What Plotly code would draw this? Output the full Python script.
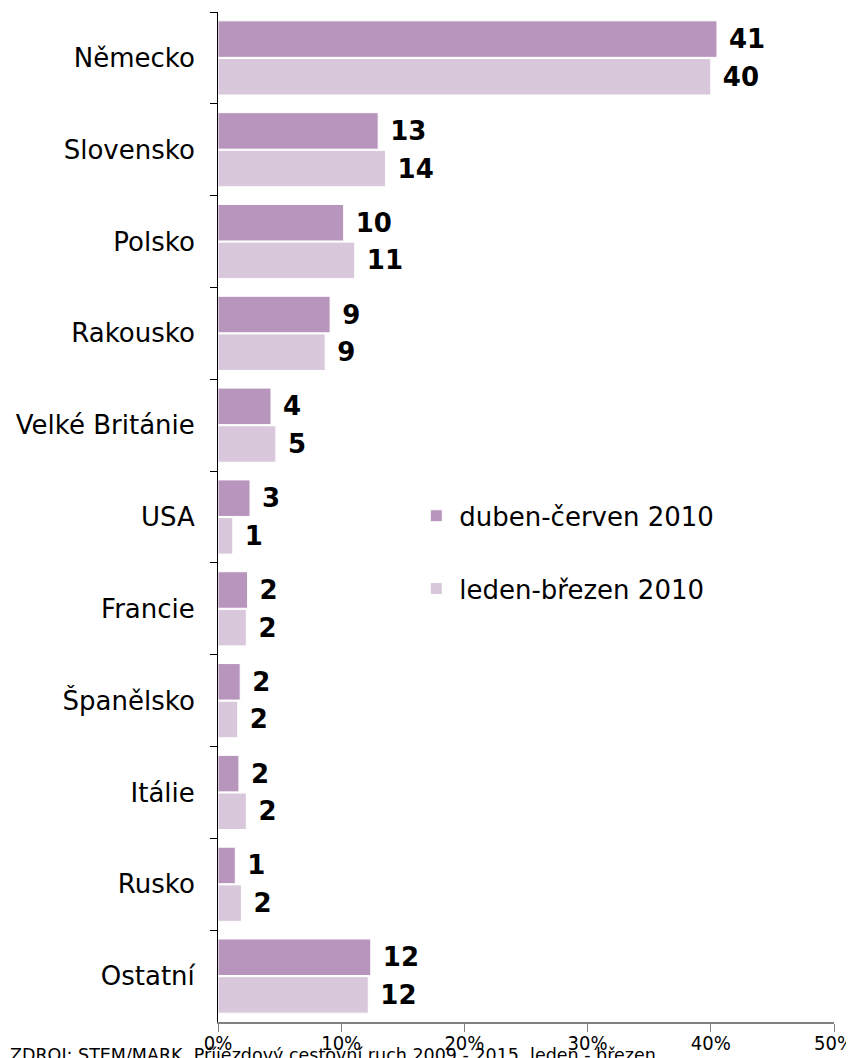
import plotly.graph_objects as go

categories = ["Německo", "Slovensko", "Polsko", "Rakousko", "Velké Británie", "USA",
              "Francie", "Španělsko", "Itálie", "Rusko", "Ostatní"]
series_names = ["duben-červen 2010", "leden-březen 2010"]
apr_jun = [0.405, 0.130, 0.102, 0.091, 0.043, 0.026, 0.024, 0.018, 0.017, 0.014, 0.124]
jan_mar = [0.400, 0.136, 0.111, 0.087, 0.047, 0.012, 0.023, 0.016, 0.023, 0.019, 0.122]
apr_jun_labels = ["41", "13", "10", "9", "4", "3", "2", "2", "2", "1", "12"]
jan_mar_labels = ["40", "14", "11", "9", "5", "1", "2", "2", "2", "2", "12"]
x_ticks = [0, 0.1, 0.2, 0.3, 0.4, 0.5]
x_tick_labels = ["0%", "10%", "20%", "30%", "40%", "50%"]
source_text = "ZDROJ: STEM/MARK, Příjezdový cestovní ruch 2009 - 2015, leden - březen"

colors = ["#B795BC", "#D9C8DC"]
font_main = "DejaVu Sans, Verdana, sans-serif"
font_narrow = "DejaVu Sans Condensed, DejaVu Sans, sans-serif"

fig = go.Figure()
for name, vals, labs, col, grp in [
    (series_names[0], apr_jun, apr_jun_labels, colors[0], "a"),
    (series_names[1], jan_mar, jan_mar_labels, colors[1], "b"),
]:
    fig.add_trace(go.Bar(
        y=categories, x=vals, orientation="h", name=name,
        marker=dict(color=col, line=dict(color="white", width=1)),
        text=[" " + t for t in labs], textposition="outside",
        textfont=dict(family=font_main, size=26, color="black", weight="bold"),
        cliponaxis=False, legendgroup=grp,
    ))

fig.update_layout(
    width=854, height=1058,
    margin=dict(l=210, r=28, t=4, b=44),
    barmode="group", bargap=0.18, bargroupgap=0.03,
    plot_bgcolor="white", paper_bgcolor="white",
    font=dict(family=font_main, size=26, color="black"),
    showlegend=True,
    legend=dict(x=0.317, y=0.465, xanchor="left", yanchor="middle",
                traceorder="grouped", tracegroupgap=36,
                font=dict(family=font_main, size=26, color="black"),
                bgcolor="rgba(0,0,0,0)", itemwidth=36),
    xaxis=dict(range=[0, 0.5], tickvals=x_ticks, ticktext=x_tick_labels,
               automargin=False,
               showgrid=False, zeroline=False, showline=True, linecolor="#808080",
               linewidth=2, ticks="outside", ticklen=8, tickcolor="#808080",
               ticklabelstandoff=-6,
               tickfont=dict(family=font_narrow, size=20, color="black")),
    yaxis=dict(autorange="reversed", automargin=False, showgrid=False, zeroline=False,
               showline=True, linecolor="black", linewidth=1, ticks="outside", ticklen=7,
               tickcolor="black", tickson="boundaries", ticklabelstandoff=17,
               tickfont=dict(family=font_main, size=26, color="black")),
)

fig.add_annotation(text=source_text, xref="paper", yref="paper", x=-210 / 616, y=-0.021,
                   xanchor="left", yanchor="top", showarrow=False,
                   font=dict(family=font_main, size=17.5, color="black"))

fig.write_html("out.html")
